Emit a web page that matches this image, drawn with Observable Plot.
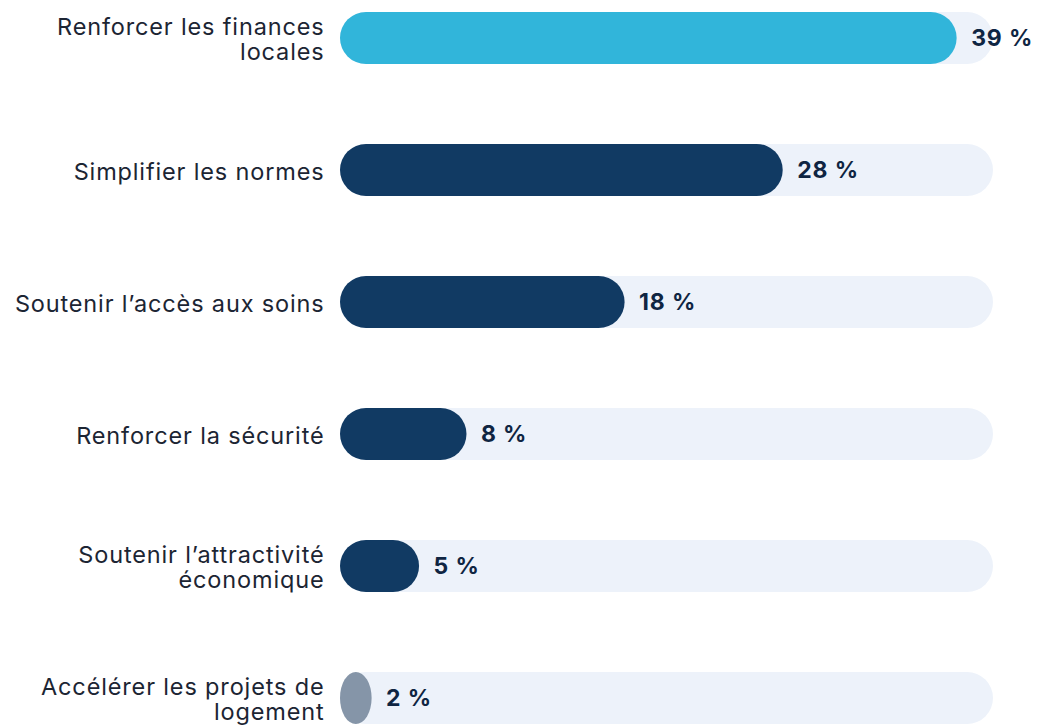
<!DOCTYPE html>
<html>
<head>
<meta charset="utf-8">
<script src="https://cdn.jsdelivr.net/npm/d3@7"></script>
<script src="https://cdn.jsdelivr.net/npm/@observablehq/plot@0.6"></script>
<style>
  html, body { margin: 0; padding: 0; background: #ffffff; }
  svg { display: block; }
  svg text { letter-spacing: 0.85px; }
</style>
</head>
<body>
<div id="chart"></div>
<script>
const categories = [
  "Renforcer les finances locales",
  "Simplifier les normes",
  "Soutenir l’accès aux soins",
  "Renforcer la sécurité",
  "Soutenir l’attractivité économique",
  "Accélérer les projets de logement"
];
const labels = [
  "Renforcer les finances\nlocales",
  "Simplifier les normes",
  "Soutenir l’accès aux soins",
  "Renforcer la sécurité",
  "Soutenir l’attractivité\néconomique",
  "Accélérer les projets de\nlogement"
];
const values = [39, 28, 18, 8, 5, 2];
const barColors = ["#31b5da", "#113a63", "#113a63", "#113a63", "#113a63", "#8595a8"];
const trackMax = 41.3;

const data = categories.map((c, i) => ({
  category: c, label: labels[i], value: values[i], color: barColors[i], track: trackMax
}));

const chart = Plot.plot({
  width: 1039,
  height: 726,
  marginLeft: 0, marginRight: 0, marginTop: 0, marginBottom: 0,
  style: { fontFamily: "Inter, 'Noto Sans', sans-serif", background: "#ffffff" },
  x: { domain: [0, trackMax], range: [340, 993], axis: null },
  y: { type: "band", domain: categories, range: [12, 724], paddingInner: 80 / 132, paddingOuter: 0, axis: null },
  marks: [
    Plot.barX(data, { x: "track", y: "category", fill: "#edf2fa", rx: 26 }),
    Plot.barX(data, { x: "value", y: "category", fill: d => d.color, rx: 26 }),
    Plot.text(data, {
      x: 0, y: "category", text: "label", textAnchor: "end", dx: -16, dy: 1,
      fontSize: 23.5, lineHeight: 1.07, fill: "#1c2533"
    }),
    Plot.text(data, {
      x: "value", y: "category", text: d => d.value + " %", textAnchor: "start", dx: 14,
      fontSize: 23, fontWeight: 700, fill: "#0f2542"
    })
  ]
});
document.getElementById("chart").appendChild(chart);
</script>
</body>
</html>
